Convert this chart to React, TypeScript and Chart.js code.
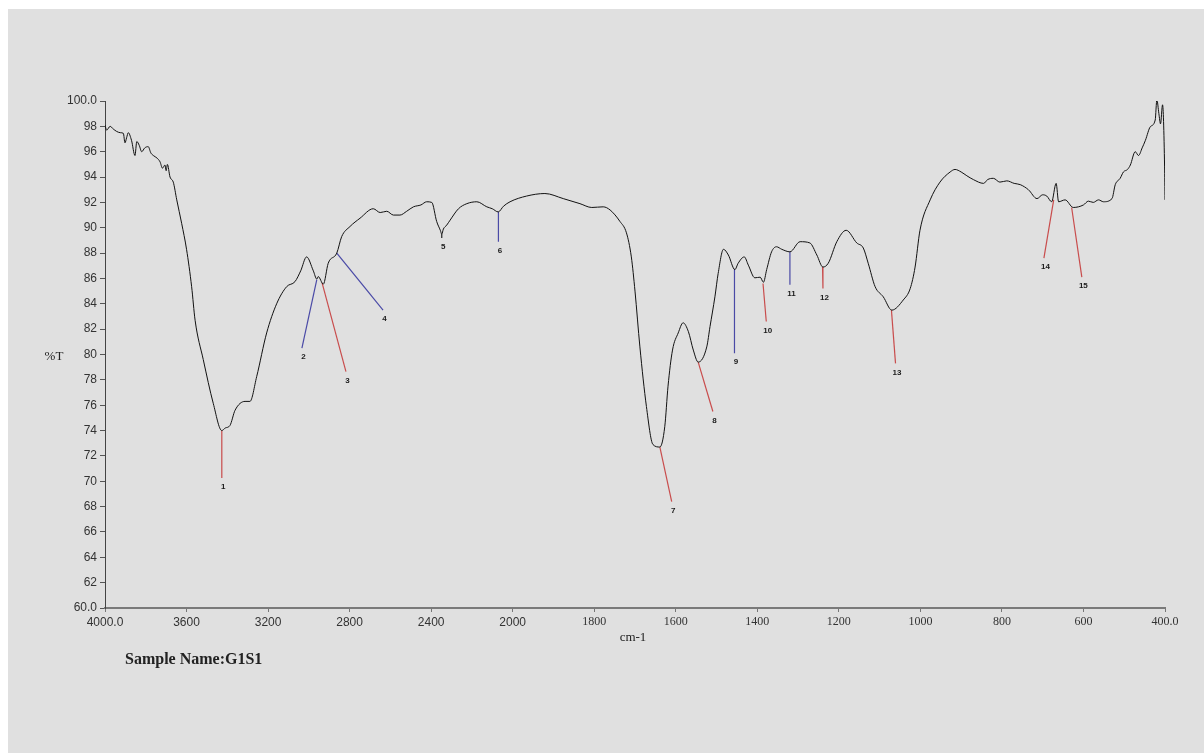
import React, { useEffect, useRef } from 'react';
import { Chart, registerables } from 'chart.js';

Chart.register(...registerables);

// Spectrum data (wavenumber cm-1, %T)
const WAVENUMBERS = [
  4000, 3992, 3975, 3960, 3943, 3925, 3910, 3902, 3894, 3886, 3870, 3853, 3844, 3832, 3820, 3805,
  3788, 3775, 3763, 3745, 3730, 3718, 3706, 3700, 3694, 3681, 3665, 3648, 3624, 3600, 3575, 3558,
  3518, 3469, 3427, 3410, 3387, 3362, 3313, 3289, 3256, 3207, 3158, 3109, 3068, 3040, 3011, 2978,
  2961, 2954, 2929, 2905, 2863, 2839, 2798, 2749, 2684, 2650, 2618, 2585, 2553, 2520, 2487, 2450,
  2422, 2397, 2373, 2355, 2348, 2340, 2324, 2307, 2266, 2225, 2176, 2127, 2100, 2071, 2045, 2013,
  1966, 1921, 1876, 1835, 1806, 1778, 1761, 1737, 1721, 1709, 1700, 1688, 1672, 1656, 1639, 1627,
  1619, 1608, 1594, 1582, 1569, 1557, 1545, 1524, 1516, 1504, 1496, 1483, 1471, 1455, 1447, 1432,
  1422, 1406, 1393, 1385, 1377, 1365, 1353, 1340, 1320, 1295, 1271, 1254, 1239, 1226, 1205, 1182,
  1156, 1140, 1128, 1111, 1091, 1070, 1042, 1025, 1013, 1001, 976, 952, 927, 915, 900, 886,
  870, 845, 835, 821, 805, 788, 770, 755, 735, 714, 700, 690, 678, 667, 661, 645,
  625, 600, 588, 576, 563, 551, 530, 522, 510, 502, 492, 485, 473, 465, 456, 448,
  436, 424, 420, 415, 411, 406, 401, 400,
];
const TRANSMITTANCE = [
  98.1, 97.7, 98.0, 97.8, 97.6, 97.5, 97.45, 96.7, 97.1, 97.5, 96.9, 95.7, 96.8, 96.5, 96.0, 96.3,
  96.4, 95.9, 95.7, 95.5, 95.2, 94.7, 94.95, 94.5, 95.0, 94.0, 93.6, 92.2, 90.35, 88.3, 85.35, 82.7,
  79.6, 76.15, 74.0, 74.2, 74.4, 75.6, 76.3, 76.3, 78.25, 81.7, 84.0, 85.35, 85.75, 86.6, 87.7, 86.6,
  85.95, 86.15, 85.55, 87.2, 88.0, 89.3, 90.1, 90.75, 91.5, 91.2, 91.3, 91.0, 91.0, 91.3, 91.65, 91.8,
  92.05, 92.0, 90.5, 89.8, 89.5, 89.9, 90.2, 90.6, 91.5, 91.9, 92.05, 91.65, 91.5, 91.25, 91.7, 92.05,
  92.5, 92.7, 92.3, 91.9, 91.6, 91.65, 91.4, 90.5, 89.6, 87.7, 85.0, 80.6, 75.9, 72.9, 72.7, 74.3,
  77.5, 80.35, 81.7, 82.5, 81.8, 80.35, 79.4, 80.6, 82.2, 84.55, 86.4, 88.3, 87.85, 86.7, 87.2, 87.7,
  87.05, 86.05, 86.1, 85.7, 86.7, 88.1, 88.5, 88.3, 88.1, 88.9, 88.8, 87.85, 86.9, 87.2, 88.9, 89.8,
  88.8, 88.4, 87.2, 85.35, 84.55, 83.5, 84.3, 85.2, 86.9, 89.8, 92.2, 93.6, 94.4, 94.6, 94.4, 94.1,
  93.8, 93.5, 93.8, 93.9, 93.6, 93.7, 93.5, 93.4, 93.0, 92.3, 92.6, 92.5, 92.05, 93.5, 92.05, 92.2,
  91.6, 91.8, 92.1, 92.0, 92.2, 92.05, 92.3, 93.4, 93.9, 94.4, 94.6, 94.95, 96.0, 95.7, 96.3, 96.9,
  97.97, 98.5, 100.1, 99.0, 98.2, 99.7, 94.8, 92.2,
];

// Peak markers: from point on curve to label anchor
const MARKER_IDS = ['1', '2', '3', '4', '5', '6', '7', '8', '9', '10', '11', '12', '13', '14', '15'];
const MARKER_KINDS = ['red', 'blue', 'red', 'blue', 'black', 'blue', 'red', 'red', 'blue', 'red', 'blue', 'red', 'red', 'red', 'red'];
const MARKER_FROM_W = [3427, 2961, 2935, 2863, 2348, 2070, 1639, 1545, 1456, 1386, 1320, 1240, 1071, 673, 629];
const MARKER_FROM_T = [74.0, 85.9, 85.65, 88.0, 89.5, 91.25, 72.7, 79.4, 86.75, 85.6, 88.1, 86.9, 83.5, 92.2, 91.6];
const MARKER_TO_W = [3427, 3034, 2818, 2636, 2348, 2070, 1610, 1509, 1456, 1378, 1320, 1239, 1061, 697, 604];
const MARKER_TO_T = [70.25, 80.5, 78.65, 83.5, 89.2, 88.9, 68.4, 75.5, 80.1, 82.6, 85.5, 85.2, 79.3, 87.6, 86.1];

const X_TICK_LABELS = ['4000.0', '3600', '3200', '2800', '2400', '2000', '1800', '1600', '1400', '1200', '1000', '800', '600', '400.0'];
const Y_TICK_LABELS = ['60.0', '62', '64', '66', '68', '70', '72', '74', '76', '78', '80', '82', '84', '86', '88', '90', '92', '94', '96', '98', '100.0'];

const SAMPLE_NAME = 'Sample Name:G1S1';
const Y_TITLE = '%T';
const X_TITLE = 'cm-1';

// Axis with a scale change at 2000 cm-1: 400 per division above, 200 per division below
function toU(w: number): number {
  return w >= 2000 ? (4000 - w) / 400 : 5 + (2000 - w) / 200;
}

const KIND_COLORS: Record<string, string> = {
  red: '#c84c4c',
  blue: '#4a4aa6',
  black: '#222222',
};

export default function App() {
  const ref = useRef<HTMLCanvasElement>(null);

  useEffect(() => {
    if (!ref.current) return;

    const spectrum = WAVENUMBERS.map((w, i) => ({ x: toU(w), y: TRANSMITTANCE[i] }));
    const markerSets = MARKER_IDS.map((id, i) => ({
      label: 'peak ' + id,
      data: [
        { x: toU(MARKER_FROM_W[i]), y: MARKER_FROM_T[i] },
        { x: toU(MARKER_TO_W[i]), y: MARKER_TO_T[i] },
      ],
      borderColor: KIND_COLORS[MARKER_KINDS[i]],
      borderWidth: 1.2,
      pointRadius: 0,
      tension: 0,
      fill: false,
    }));

    const annotPlugin = {
      id: 'annot',
      afterDatasetsDraw(chart: any) {
        const { ctx, scales } = chart;
        const xs = scales.x;
        const ys = scales.y;
        ctx.save();
        ctx.fillStyle = '#1a1a1a';
        ctx.font = 'bold 8px "Liberation Sans"';
        ctx.textAlign = 'center';
        ctx.textBaseline = 'middle';
        MARKER_IDS.forEach((id, i) => {
          const px = xs.getPixelForValue(toU(MARKER_TO_W[i]));
          const py = ys.getPixelForValue(MARKER_TO_T[i]);
          ctx.fillText(id, px + 1.5, py + 9);
        });
        ctx.fillStyle = '#222';
        ctx.font = '13px "Liberation Serif"';
        ctx.fillText(Y_TITLE, 46, 348);
        ctx.fillText(X_TITLE, 625, 629);
        ctx.textAlign = 'left';
        ctx.font = 'bold 16px "Liberation Serif"';
        ctx.fillText(SAMPLE_NAME, 117, 651);
        ctx.restore();
      },
    };

    const chart = new Chart(ref.current, {
      type: 'line',
      data: {
        datasets: [
          {
            label: 'spectrum',
            data: spectrum,
            borderColor: '#111111',
            borderWidth: 1,
            pointRadius: 0,
            cubicInterpolationMode: 'monotone',
            fill: false,
          },
          ...markerSets,
        ],
      },
      options: {
        animation: false,
        responsive: false,
        devicePixelRatio: 1,
        parsing: false as any,
        layout: { padding: { left: 0, right: 39, top: 92, bottom: 105 } },
        plugins: {
          legend: { display: false },
          tooltip: { enabled: false },
          title: { display: false },
        },
        scales: {
          x: {
            type: 'linear',
            min: 0,
            max: 13,
            afterFit: (s: any) => {
              s.height = 40;
            },
            ticks: {
              stepSize: 1,
              autoSkip: false,
              maxRotation: 0,
              padding: 3,
              color: '#333',
              font: (c: any) => ({
                family: c.tick && c.tick.value <= 5 ? '"Liberation Sans"' : '"Liberation Serif"',
                size: 12,
              }),
              callback: (_v: any, i: number) => X_TICK_LABELS[i],
            },
            grid: {
              display: true,
              drawOnChartArea: false,
              drawTicks: true,
              tickLength: 4,
              color: '#777',
            },
            border: { display: true, color: '#7a7a7a', width: 2 },
          },
          y: {
            type: 'linear',
            min: 60,
            max: 100,
            afterFit: (s: any) => {
              s.width = 97;
            },
            ticks: {
              stepSize: 2,
              autoSkip: false,
              padding: 3,
              color: '#333',
              font: { family: '"Liberation Sans"', size: 12 },
              callback: (_v: any, i: number) => Y_TICK_LABELS[i],
            },
            grid: {
              display: true,
              drawOnChartArea: false,
              drawTicks: true,
              tickLength: 5,
              color: '#555',
            },
            border: { display: true, color: '#444', width: 1 },
          },
        },
      },
      plugins: [annotPlugin],
    });

    return () => chart.destroy();
  }, []);

  return (
    <div
      style={{
        position: 'fixed',
        left: 8,
        top: 9,
        width: 1196,
        height: 744,
        background: '#e0e0e0',
      }}
    >
      <canvas ref={ref} width={1196} height={744} style={{ display: 'block', width: 1196, height: 744 }} />
    </div>
  );
}
